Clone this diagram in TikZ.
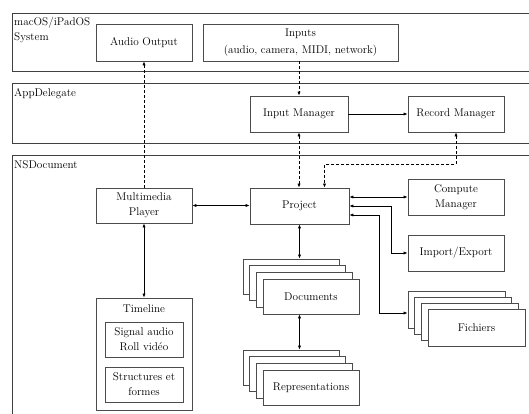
\documentclass[tikz,border=0pt]{standalone}
\usetikzlibrary{arrows.meta,calc}
\begin{document}
\begin{tikzpicture}[x=1pt,y=-1pt,
 box/.style={draw=black!70, line width=0.75pt, fill=white, inner sep=0pt, align=center, font=\fontsize{11.2}{15}\selectfont},
 layerline/.style={draw=black!75, line width=0.8pt},
 conn/.style={draw=black, line width=0.7pt},
 arr/.style={-{Latex[length=4pt,width=3.2pt]}},
 barr/.style={{Latex[length=4pt,width=3.2pt]}-{Latex[length=4pt,width=3.2pt]}},
 dsh/.style={dash pattern=on 3pt off 2pt},
 lbl/.style={anchor=north west, inner sep=0pt, align=left, font=\fontsize{11.2}{14.5}\selectfont}]
\path[use as bounding box] (0,0) rectangle (529,414);
% layers
\draw[layerline] (545,13) -- (12,13) -- (12,71) -- (545,71);
\draw[layerline] (545,83) -- (12,83) -- (12,143) -- (545,143);
\draw[layerline] (545,155) -- (12,155) -- (12,420);
\node[lbl] (l1) at (14,17) {macOS/iPadOS\\System};
\node[lbl] (l2) at (14,88) {AppDelegate};
\node[lbl] (l3) at (14,160) {NSDocument};
% nodes
\node[box, minimum width=96, minimum height=37] (audio) at (144,42.5) {Audio Output};
\node[box, minimum width=195, minimum height=37, font=\fontsize{11.2}{17}\selectfont] (inputs) at (300.5,42.5) {Inputs\\(audio, camera, MIDI, network)};
\node[box, minimum width=98, minimum height=36] (inman) at (299,114) {Input Manager};
\node[box, minimum width=96, minimum height=36] (rec) at (456,114) {Record Manager};
\node[box, minimum width=96, minimum height=35] (mp) at (144,205.5) {Multimedia\\Player};
\node[box, minimum width=99, minimum height=36] (proj) at (299.5,206) {Project};
\node[box, minimum width=96, minimum height=36] (comp) at (456,197) {Compute\\Manager};
\node[box, minimum width=96, minimum height=36] (imp) at (456,253) {Import/Export};
\node[box, minimum width=96, minimum height=112] (tl) at (144,354) {};
\node[inner sep=0pt, font=\fontsize{11.2}{15}\selectfont] (tltxt) at (144,309) {Timeline};
\node[box, minimum width=78, minimum height=35] (sig) at (144,339.5) {Signal audio\\Roll vidéo};
\node[box, minimum width=78, minimum height=35] (struc) at (144,384.5) {Structures et\\formes};
% stacks
\foreach \i in {3,2,1} {
  \node[box, minimum width=96, minimum height=35] (docs\i) at ({311-6.67*\i},{296.5-6.67*\i}) {};
}
\node[box, minimum width=96, minimum height=35] (docs) at (311,296.5) {Documents};
\foreach \i in {3,2,1} {
  \node[box, minimum width=96, minimum height=35] (reps\i) at ({311-6.67*\i},{387.5-6.67*\i}) {};
}
\node[box, minimum width=96, minimum height=35] (reps) at (311,387.5) {Representations};
\foreach \i in {3,2,1} {
  \node[box, minimum width=97, minimum height=37] (fich\i) at ({476.5-6.67*\i},{327.5-6*\i}) {};
}
\node[box, minimum width=97, minimum height=37] (fich) at (476.5,327.5) {Fichiers};
% connectors
\draw[conn,dsh,arr] (mp.north) -- (audio.south);
\draw[conn,dsh,arr] (inputs.south -| inman.north) -- (inman.north);
\draw[conn,arr] (inman.east) -- (rec.west);
\draw[conn,dsh,barr] (inman.south) -- (inman.south |- proj.north);
\draw[conn,dsh,barr] (rec.south) -- ++(0,32) -| ($(proj.north)+(25,0)$);
\draw[conn,barr] (mp.east) -- (mp.east -| proj.west);
\draw[conn,barr] (proj.east |- comp.west) -- (comp.west);
\draw[conn,barr] (proj.east) -- ++(42,0) |- (imp.west);
\draw[conn,barr] ($(proj.east)+(0,9)$) -- ++(30,0) |- ($(fich3.west)+(0,3.5)$);
\draw[conn,barr] (proj.south) -- (proj.south |- docs3.north);
\draw[conn,barr] (docs.south -| proj.south) -- (proj.south |- reps3.north);
\draw[conn,barr] (mp.south) -- (tl.north);
\end{tikzpicture}
\end{document}
